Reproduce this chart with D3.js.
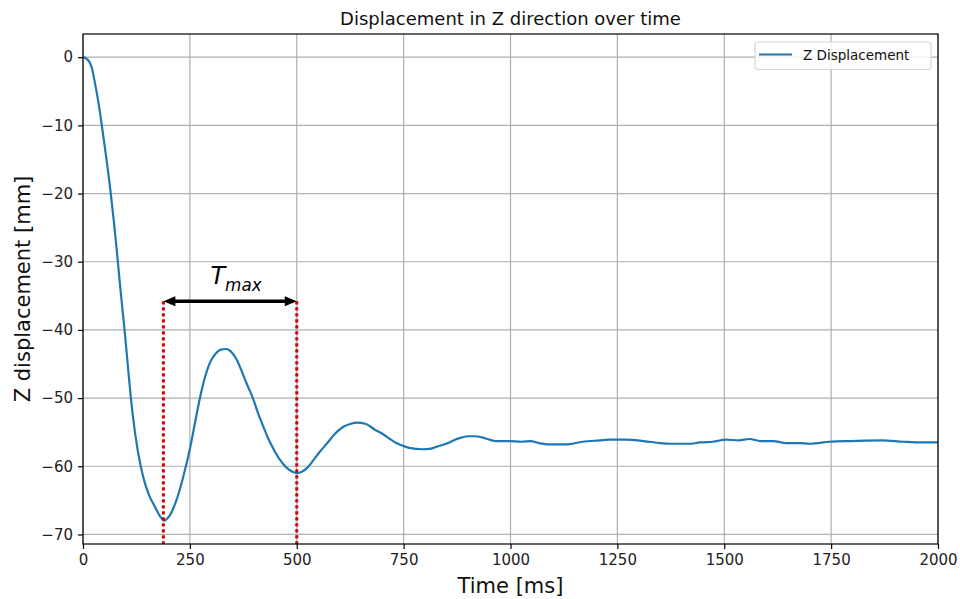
<!DOCTYPE html>
<html>
<head>
<meta charset="utf-8">
<script src="https://cdn.jsdelivr.net/npm/d3@7"></script>
<style>
  body { margin: 0; background: #fff; }
  svg { font-family: "DejaVu Sans", sans-serif; }
</style>
</head>
<body>
<svg id="vis" width="960" height="599"></svg>
<script>
// time [ms] and Z displacement [mm]
var timeMs = [0, 10, 20, 28, 36, 44, 55, 65, 72, 79, 86, 92, 98, 105, 112, 122, 135, 145, 155, 168, 180, 190,
  198, 205, 215, 227, 237, 246, 256, 266, 276, 286, 297, 310, 322, 335, 345, 359, 371, 383, 398, 410, 422,
  433, 445, 460, 476, 490, 500, 512, 525, 539, 555, 570, 590, 609, 625, 641, 662, 682, 702, 718, 733, 748,
  763, 794, 814, 834, 854, 870, 885, 900, 915, 936, 951, 966, 996, 1026, 1047, 1067, 1088, 1128, 1169,
  1209, 1230, 1270, 1311, 1351, 1372, 1422, 1443, 1473, 1504, 1534, 1559, 1585, 1615, 1645, 1676, 1701,
  1747, 1797, 1869, 1919, 1960, 2000];
var zDisp = [0, -0.3, -1.4, -3.8, -6.6, -10, -15, -20, -24, -28.3, -33, -36.8, -40.5, -45.3, -50, -55.2,
  -60, -62.5, -64.3, -65.9, -67.3, -68.0,
  -67.6, -67.0, -65.6, -63.3, -60.9, -58.6, -55.6, -52.3, -49.3, -46.8, -44.8, -43.5, -42.9, -42.8,
  -43.1, -44.3, -46.0, -47.9, -50.1, -52.3, -54.2, -55.9, -57.4, -59.0, -60.2, -60.8, -61.0, -60.8,
  -60.2, -59.1, -57.8, -56.7, -55.2, -54.2, -53.8, -53.6, -53.8, -54.6, -55.3, -56.0, -56.6, -57.0,
  -57.3, -57.5, -57.4, -57.0, -56.6, -56.1, -55.8, -55.6, -55.6, -55.8, -56.1, -56.3, -56.3, -56.4,
  -56.3, -56.6, -56.8, -56.8, -56.4, -56.2, -56.1, -56.1, -56.3, -56.6, -56.7, -56.7, -56.5, -56.4,
  -56.1, -56.2, -56.0, -56.3, -56.3, -56.6, -56.6, -56.7, -56.4, -56.3, -56.2, -56.4, -56.5, -56.5];

var xTicks = [0, 250, 500, 750, 1000, 1250, 1500, 1750, 2000];
var yTicks = [0, -10, -20, -30, -40, -50, -60, -70];

// the two minima and the arrow level for T_max
var tMaxStart = 188, tMaxEnd = 500, tMaxLevel = -35.8;

var svg = d3.select("#vis"),
    pLeft = 83, pRight = 938, pTop = 34, pBottom = 544;

var x = d3.scaleLinear().domain([0, 2000]).range([pLeft, pRight]);
var y = d3.scaleLinear().domain([-71.4, 3.4]).range([pBottom, pTop]);

var data = timeMs.map(function(t, i) { return { t: t, z: zDisp[i] }; });

// grid
var grid = svg.append("g");
grid.selectAll("line.gx").data(xTicks).enter().append("line")
    .attr("x1", function(d) { return x(d); }).attr("x2", function(d) { return x(d); })
    .attr("y1", pTop).attr("y2", pBottom)
    .attr("stroke", "#b0b0b0").attr("stroke-width", 1.2);
grid.selectAll("line.gy").data(yTicks).enter().append("line")
    .attr("y1", function(d) { return y(d); }).attr("y2", function(d) { return y(d); })
    .attr("x1", pLeft).attr("x2", pRight)
    .attr("stroke", "#b0b0b0").attr("stroke-width", 1.2);

// axes
var xAxis = svg.append("g")
    .attr("transform", "translate(0," + pBottom + ")")
    .call(d3.axisBottom(x).tickValues(xTicks).tickFormat(d3.format("d")).tickSize(5).tickPadding(5));
var yAxis = svg.append("g")
    .attr("transform", "translate(" + pLeft + ",0)")
    .call(d3.axisLeft(y).tickValues(yTicks).tickFormat(d3.format("d")).tickSize(5).tickPadding(5));

[xAxis, yAxis].forEach(function(a) {
  a.select(".domain").remove();
  a.selectAll(".tick line").attr("stroke", "#000").attr("stroke-width", 1.2);
  a.selectAll(".tick text").attr("font-size", 15).attr("fill", "#222")
      .attr("font-family", "DejaVu Sans");
});

// curve
svg.append("path")
    .datum(data)
    .attr("fill", "none")
    .attr("stroke", "#1f77b4")
    .attr("stroke-width", 2.2)
    .attr("d", d3.line()
        .x(function(d) { return x(d.t); })
        .y(function(d) { return y(d.z); })
        .curve(d3.curveMonotoneX));

// red dotted markers
svg.selectAll("line.mark").data([tMaxStart, tMaxEnd]).enter().append("line")
    .attr("x1", function(d) { return x(d); }).attr("x2", function(d) { return x(d); })
    .attr("y1", y(tMaxLevel)).attr("y2", pBottom)
    .attr("stroke", "#d40000").attr("stroke-width", 3)
    .attr("stroke-dasharray", "3.3,2.7");

// double arrow
var ax1 = x(tMaxStart), ax2 = x(tMaxEnd), ay = y(tMaxLevel), hl = 12, hw = 5;
svg.append("line")
    .attr("x1", ax1 + hl - 2).attr("x2", ax2 - hl + 2)
    .attr("y1", ay).attr("y2", ay)
    .attr("stroke", "#000").attr("stroke-width", 3.5);
svg.append("path")
    .attr("d", "M" + ax1 + "," + ay + "L" + (ax1 + hl) + "," + (ay - hw) + "L" + (ax1 + hl) + "," + (ay + hw) + "Z" +
               "M" + ax2 + "," + ay + "L" + (ax2 - hl) + "," + (ay - hw) + "L" + (ax2 - hl) + "," + (ay + hw) + "Z")
    .attr("fill", "#000");

var tl = svg.append("text")
    .attr("x", (ax1 + ax2) / 2 + 6).attr("y", ay - 17)
    .attr("text-anchor", "middle")
    .attr("font-style", "italic").attr("font-size", 24).attr("fill", "#000");
tl.append("tspan").text("T");
tl.append("tspan").attr("font-size", 16.8).attr("dy", 6.4).text("max");

// frame
svg.append("rect")
    .attr("x", pLeft).attr("y", pTop).attr("width", pRight - pLeft).attr("height", pBottom - pTop)
    .attr("fill", "none").attr("stroke", "#000").attr("stroke-width", 1.2);

// title and labels
svg.append("text").attr("x", (pLeft + pRight) / 2).attr("y", 25)
    .attr("text-anchor", "middle").attr("font-size", 18).attr("fill", "#111")
    .text("Displacement in Z direction over time");
svg.append("text").attr("x", (pLeft + pRight) / 2).attr("y", 593)
    .attr("text-anchor", "middle").attr("font-size", 21).attr("fill", "#111")
    .text("Time [ms]");
svg.append("text")
    .attr("transform", "translate(29.5," + ((pTop + pBottom) / 2) + ") rotate(-90)")
    .attr("text-anchor", "middle").attr("font-size", 21).attr("fill", "#111")
    .text("Z displacement [mm]");

// legend
var lg = svg.append("g");
lg.append("rect")
    .attr("x", 755).attr("y", 42).attr("width", 176).attr("height", 27.5)
    .attr("rx", 3)
    .attr("fill", "#fff").attr("fill-opacity", 0.8)
    .attr("stroke", "#d6d6d6").attr("stroke-width", 1.2);
lg.append("line")
    .attr("x1", 759).attr("x2", 792).attr("y1", 54.5).attr("y2", 54.5)
    .attr("stroke", "#1f77b4").attr("stroke-width", 2.2);
lg.append("text").attr("x", 803).attr("y", 60)
    .attr("font-size", 13.5).attr("fill", "#111")
    .text("Z Displacement");
</script>
</body>
</html>
